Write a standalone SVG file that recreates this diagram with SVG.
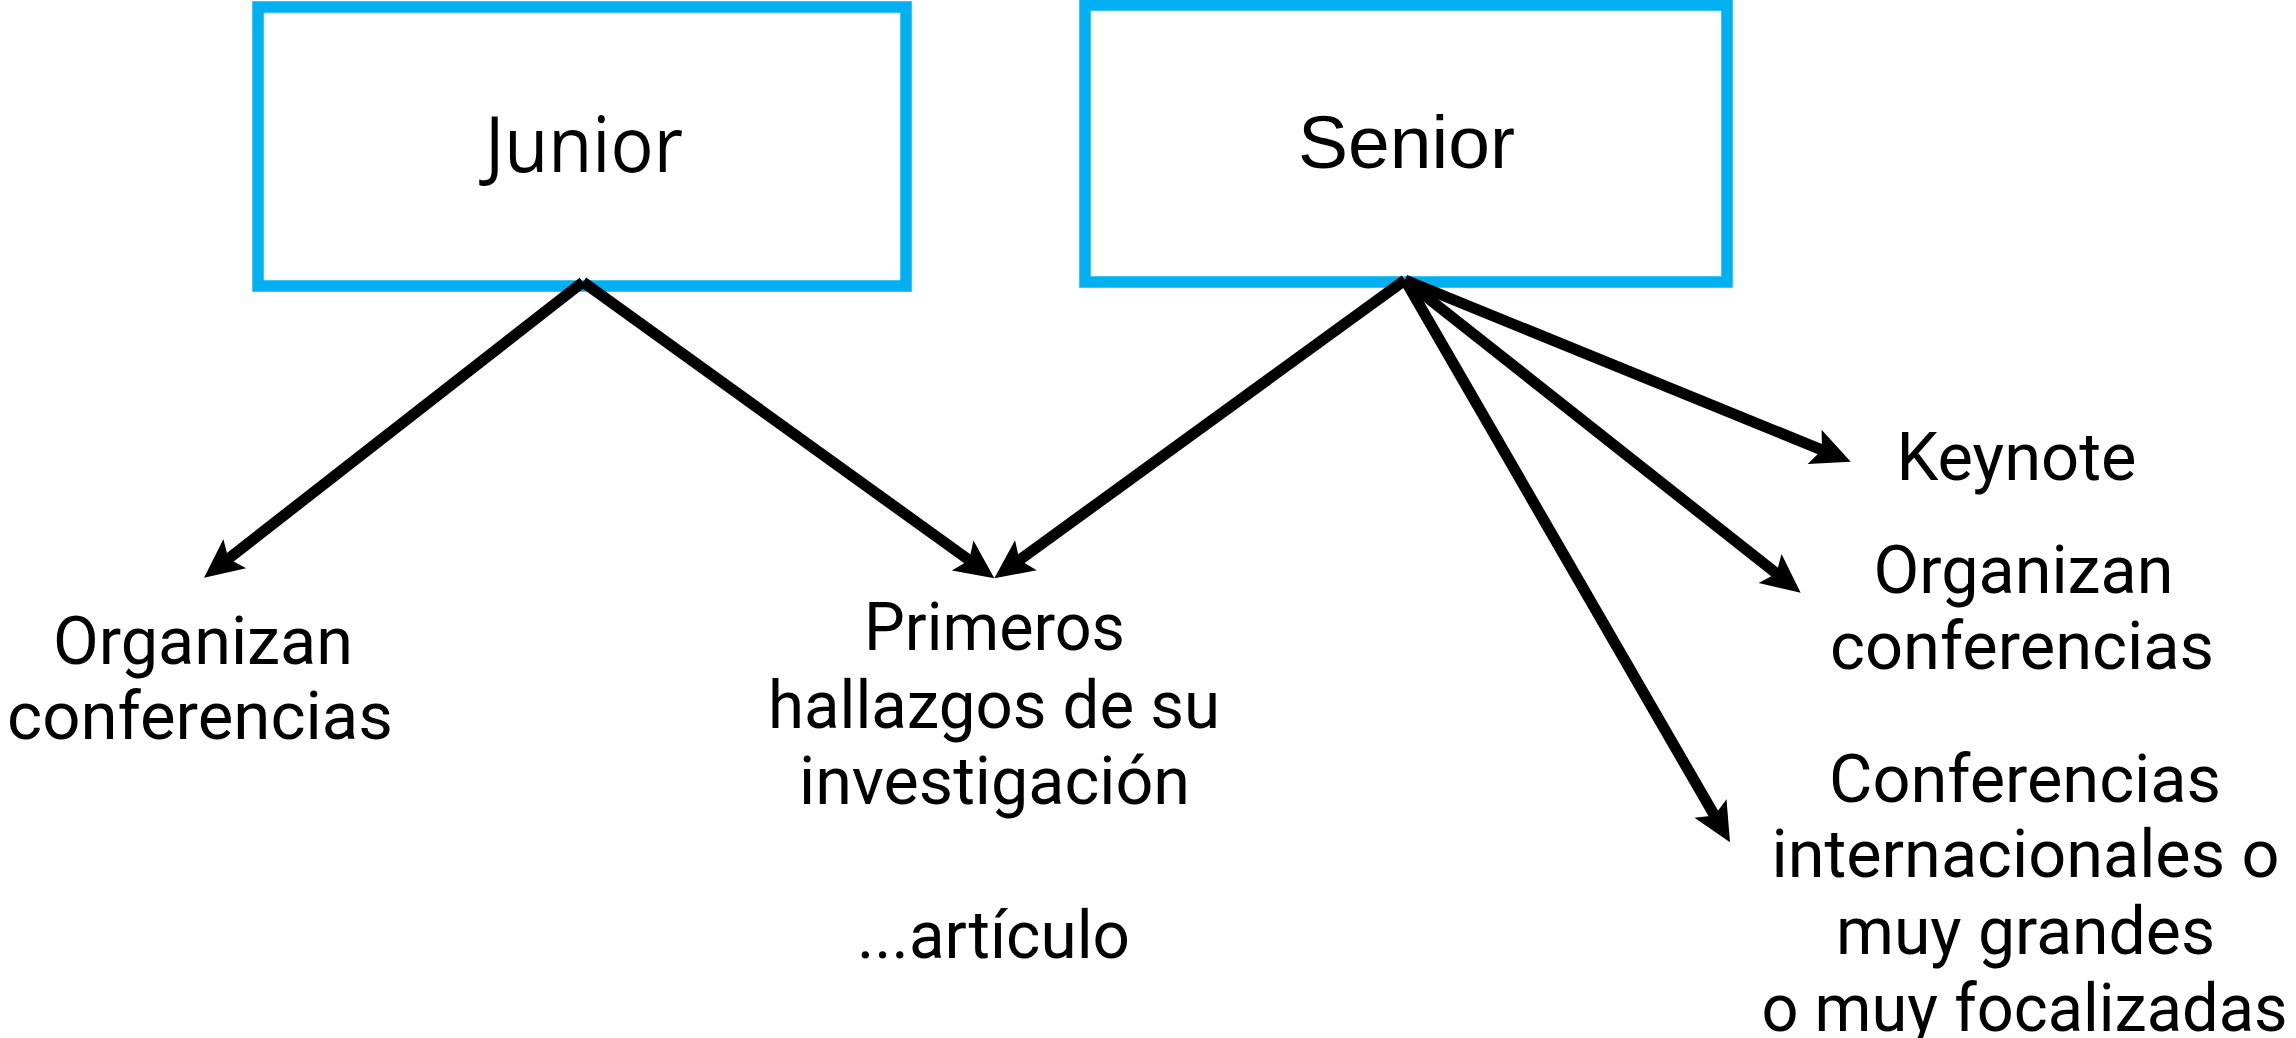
<svg xmlns="http://www.w3.org/2000/svg" width="2296" height="1038" viewBox="0 0 2296 1038">
  <style>
    .box { fill: #FFFFFF; stroke: #00B0F0; stroke-width: 11.5; }
    .lbl { font-family: Roboto, "Open Sans", "Liberation Sans", sans-serif; font-size: 66px; fill: #000000; text-anchor: middle; }
    .conn { stroke: #000000; stroke-width: 11; fill: none; marker-end: url(#arrow); }
  </style>
  <defs>
    <marker id="arrow" markerUnits="userSpaceOnUse" orient="auto" refX="-28" refY="0" markerWidth="44" markerHeight="44" overflow="visible">
      <path d="M0,0 L-39,-18.5 L-31,0 L-39,18.5 Z" fill="#000000"/>
    </marker>
  </defs>
  <rect x="0" y="0" width="2296" height="1038" fill="#FFFFFF"/>

  <g id="junior">
    <rect class="box" x="258" y="7" width="648" height="279"/>
    <text x="584" y="172" font-family="'Open Sans', 'Noto Sans', sans-serif" font-size="76" fill="#000000" text-anchor="middle" textLength="198" lengthAdjust="spacingAndGlyphs">Junior</text>
  </g>

  <g id="senior">
    <rect class="box" x="1085" y="5" width="642" height="277"/>
    <text x="1406.5" y="168" font-family="'Liberation Sans', Arial, sans-serif" font-size="75" fill="#000000" text-anchor="middle">Senior</text>
  </g>

  <g id="connectors">
    <line class="conn" x1="583" y1="282" x2="226.1" y2="560.5"/>
    <line class="conn" x1="583" y1="282" x2="971.6" y2="561.9"/>
    <line class="conn" x1="1405" y1="280" x2="1017.0" y2="561.8"/>
    <line class="conn" x1="1405" y1="280" x2="1824.8" y2="451.1"/>
    <line class="conn" x1="1405" y1="280" x2="1778.7" y2="575.3"/>
    <line class="conn" x1="1405" y1="280" x2="1716.0" y2="818.1"/>
  </g>

  <g id="junior-organizan">
    <text class="lbl" x="203" y="664" textLength="300" lengthAdjust="spacingAndGlyphs">Organizan</text>
    <text class="lbl" x="200" y="739" textLength="386" lengthAdjust="spacingAndGlyphs">conferencias</text>
  </g>

  <g id="primeros-hallazgos">
    <text class="lbl" x="994.5" y="650" textLength="261" lengthAdjust="spacingAndGlyphs">Primeros</text>
    <text class="lbl" x="994" y="727.5" textLength="452" lengthAdjust="spacingAndGlyphs">hallazgos de su</text>
    <text class="lbl" x="994.5" y="803.5" textLength="391" lengthAdjust="spacingAndGlyphs">investigación</text>
    <text class="lbl" x="993.5" y="957.5" textLength="273" lengthAdjust="spacingAndGlyphs">...artículo</text>
  </g>

  <g id="keynote">
    <text class="lbl" x="2016.5" y="480" textLength="240" lengthAdjust="spacingAndGlyphs">Keynote</text>
  </g>

  <g id="senior-organizan">
    <text class="lbl" x="2023.5" y="592.5" textLength="300" lengthAdjust="spacingAndGlyphs">Organizan</text>
    <text class="lbl" x="2022" y="668.5" textLength="384" lengthAdjust="spacingAndGlyphs">conferencias</text>
  </g>

  <g id="conferencias-internacionales">
    <text class="lbl" x="2025" y="801.5" textLength="392" lengthAdjust="spacingAndGlyphs">Conferencias</text>
    <text class="lbl" x="2025.5" y="877" textLength="508" lengthAdjust="spacingAndGlyphs">internacionales o</text>
    <text class="lbl" x="2025.5" y="953.5" textLength="379" lengthAdjust="spacingAndGlyphs">muy grandes</text>
    <text class="lbl" x="2024.5" y="1030.5" textLength="526" lengthAdjust="spacingAndGlyphs">o muy focalizadas</text>
  </g>
</svg>
